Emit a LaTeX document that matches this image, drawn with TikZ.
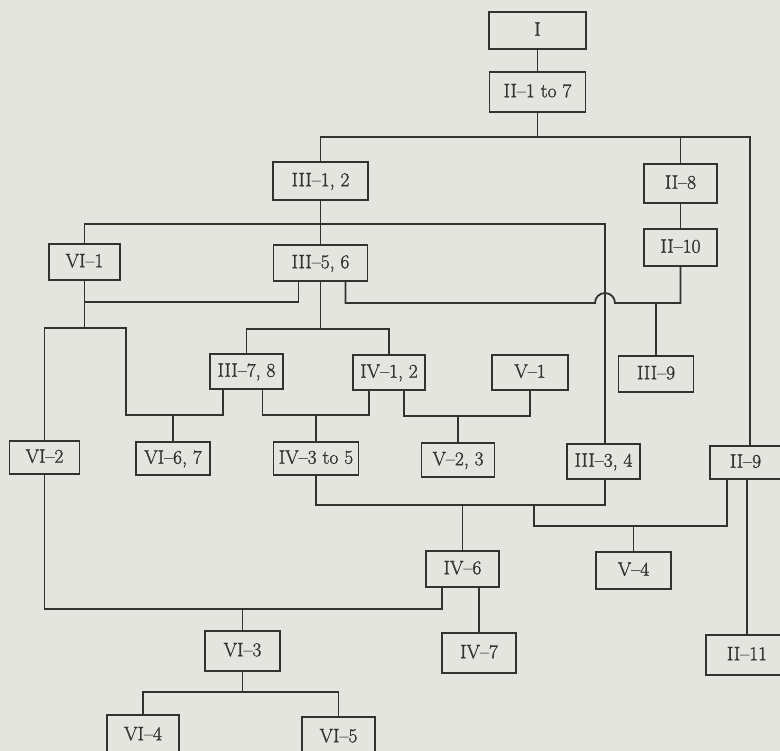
\documentclass[tikz,border=0pt]{standalone}
\usepackage{fontspec}
\newfontfamily\labfont{Latin Modern Roman}[FakeBold=1.3]
\definecolor{paper}{RGB}{229,229,224}
\definecolor{ink}{RGB}{50,50,50}
\begin{document}
\begin{tikzpicture}[x=1pt,y=-1pt,
  box/.style={draw=ink,line width=1.4pt,inner sep=0pt,text=ink,
    font=\labfont\fontsize{19.5}{22}\selectfont,text height=13.5pt,text depth=3pt},
  conn/.style={draw=ink,line width=1.8pt}]
\fill[paper] (0,0) rectangle (780,751);
\useasboundingbox (0,0) rectangle (780,751);
% nodes
\node[box,minimum width=97pt,minimum height=37pt] (I) at (537.5,30.5) {I};
\node[box,minimum width=96pt,minimum height=40pt] (II17) at (537.5,92) {II–1 to 7};
\node[box,minimum width=95pt,minimum height=38pt] (III12) at (320.5,181) {III–1, 2};
\node[box,minimum width=73pt,minimum height=39pt] (II8) at (680.5,183.5) {II–8};
\node[box,minimum width=73pt,minimum height=37pt] (II10) at (680.5,247.5) {II–10};
\node[box,minimum width=71pt,minimum height=36pt] (VI1) at (84.5,262) {VI–1};
\node[box,minimum width=94pt,minimum height=36pt] (III56) at (320.5,263) {III–5, 6};
\node[box,minimum width=73pt,minimum height=35pt] (III78) at (246.5,371.5) {III–7, 8};
\node[box,minimum width=72pt,minimum height=35pt] (IV12) at (389,372.5) {IV–1, 2};
\node[box,minimum width=76pt,minimum height=35pt] (V1) at (530,372.5) {V–1};
\node[box,minimum width=75pt,minimum height=36pt] (III9) at (656,374) {III–9};
\node[box,minimum width=70pt,minimum height=33pt] (VI2) at (44.5,457.5) {VI–2};
\node[box,minimum width=74pt,minimum height=33pt] (VI67) at (173,458.5) {VI–6, 7};
\node[box,minimum width=85pt,minimum height=33pt] (IV35) at (316,458.5) {IV–3 to 5};
\node[box,minimum width=73pt,minimum height=34pt] (V23) at (458,460) {V–2, 3};
\node[box,minimum width=73pt,minimum height=35pt] (III34) at (603.5,461.5) {III–3, 4};
\node[box,minimum width=71pt,minimum height=33pt] (II9) at (745.5,462.5) {II–9};
\node[box,minimum width=73pt,minimum height=36pt] (IV6) at (462.5,569) {IV–6};
\node[box,minimum width=75pt,minimum height=37pt] (V4) at (633.5,570.5) {V–4};
\node[box,minimum width=75pt,minimum height=40pt] (VI3) at (242.5,651) {VI–3};
\node[box,minimum width=74pt,minimum height=40pt] (IV7) at (479,653) {IV–7};
\node[box,minimum width=82pt,minimum height=40pt] (II11) at (747,655) {II–11};
\node[box,minimum width=72pt,minimum height=40pt] (VI4) at (143,735) {VI–4};
\node[box,minimum width=73pt,minimum height=40pt] (VI5) at (338.5,737) {VI–5};
% levels and columns
\coordinate (h137) at (0,137);
\coordinate (h224) at (0,224);
\coordinate (h302) at (0,302);
\coordinate (h303) at (0,303);
\coordinate (h328) at (0,328);
\coordinate (h329) at (0,329);
\coordinate (h415) at (0,415);
\coordinate (h416) at (0,416);
\coordinate (h505) at (0,505);
\coordinate (h526) at (0,526);
\coordinate (h609) at (0,609);
\coordinate (h692) at (0,692);
\coordinate (v750) at (750,0);
\coordinate (v605) at (605,0);
\coordinate (v126) at (126,0);
\coordinate (v534) at (534,0);
% connectors
\draw[conn] (I.south) -- (II17.north);
\draw[conn] (II17.south) -- (II17.south |- h137);
\draw[conn] (III12.north) |- (v750 |- h137) -- (v750 |- II9.north);
\draw[conn] (II8.north) -- (II8.north |- h137);
\draw[conn] (II8.south) -- (II10.north);
\draw[conn] (III12.south) -- (III56.north);
\draw[conn] (VI1.north) |- (v605 |- h224) -- (v605 |- III34.north);
\draw[conn] ([xshift=-22pt]III56.south) |- (VI1.south |- h302);
\draw[conn] (VI1.south) -- (VI1.south |- h328);
\draw[conn] (VI2.north) |- (v126 |- h328) -- (v126 |- h415) -| ([xshift=-23.5pt]III78.south);
\draw[conn] (VI67.north) -- (VI67.north |- h415);
\draw[conn] (III56.south) -- (III56.south |- h329);
\draw[conn] (III78.north) |- (IV12.north |- h329) -- (IV12.north);
\draw[conn] ([xshift=16pt]III78.south) |- (IV35.north |- h415) -| ([xshift=-20pt]IV12.south);
\draw[conn] (IV35.north) -- (IV35.north |- h415);
\draw[conn] ([xshift=15pt]IV12.south) |- (V23.north |- h416) -| (V1.south);
\draw[conn] (V23.north) -- (V23.north |- h416);
\draw[conn] ([xshift=25pt]III56.south) |- (595,303) arc[start angle=180,end angle=0,radius=10pt] -| (II10.south);
\draw[conn] (III9.north) -- (III9.north |- h303);
\draw[conn] (IV35.south) |- (v605 |- h505) -- (v605 |- III34.south);
\draw[conn] (IV6.north) -- (IV6.north |- h505);
\draw[conn] (v534 |- h505) -- (v534 |- h526) -| ([xshift=-18.5pt]II9.south);
\draw[conn] (V4.north) -- (V4.north |- h526);
\draw[conn] (II11.north) -- (II11.north |- II9.south);
\draw[conn] ([xshift=-20.5pt]IV6.south) |- (VI2.south |- h609) -- (VI2.south);
\draw[conn] (VI3.north) -- (VI3.north |- h609);
\draw[conn] ([xshift=16.5pt]IV6.south) -- (IV7.north);
\draw[conn] (VI3.south) -- (VI3.south |- h692);
\draw[conn] (VI4.north) |- (VI5.north |- h692) -- (VI5.north);
\end{tikzpicture}
\end{document}
